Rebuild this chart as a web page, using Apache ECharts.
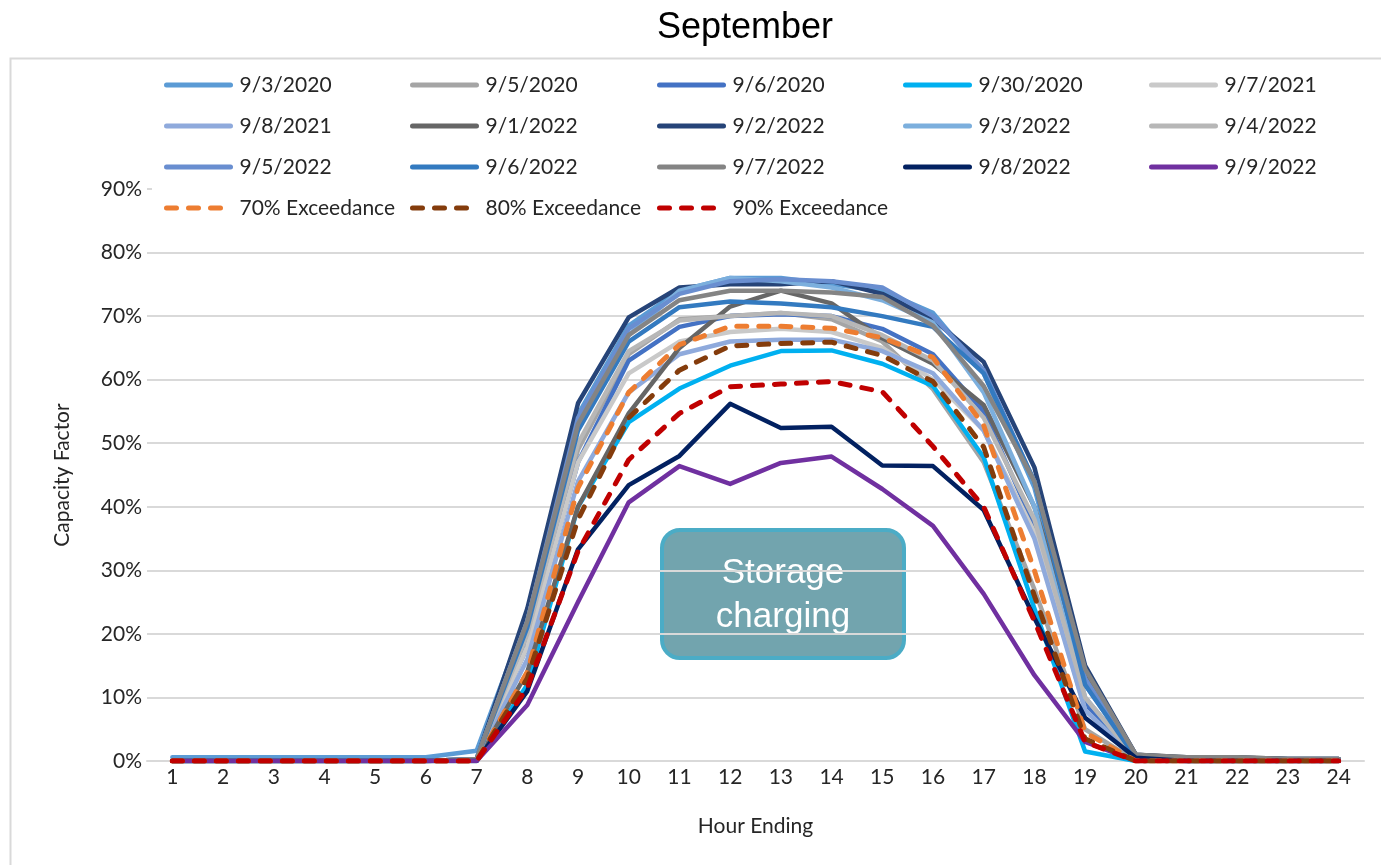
<!DOCTYPE html>
<html>
<head>
<meta charset="utf-8">
<title>September</title>
<script src="https://cdn.jsdelivr.net/npm/echarts@6/dist/echarts.min.js"></script>
<style>
  html, body { margin: 0; padding: 0; background: #ffffff; }
  #chart { width: 1381px; height: 865px; }
</style>
</head>
<body>
<div id="chart"></div>
<script>
// Hour-ending categories
const hours = ['1','2','3','4','5','6','7','8','9','10','11','12','13','14','15','16','17','18','19','20','21','22','23','24'];

// Y-axis ticks (percent)
const yTicks = [0, 10, 20, 30, 40, 50, 60, 70, 80, 90];

// Hourly capacity factor (%) per day
const d20200903 = [0.6,0.6,0.6,0.6,0.6,0.6,1.6,23,54.5,68.5,74,76,76,75,74,70.5,61,43,12,0.8,0.6,0.5,0.3,0.3];
const d20200905 = [0,0,0,0,0,0,0.3,19,49,64,69.5,70,70.5,69.5,66,58.5,47,27,5,0,0,0,0,0];
const d20200906 = [0,0,0,0,0,0,0.2,18,47,63,68.3,70,70.3,70,68,64,55,37,9,0.3,0,0,0,0];
const d20200930 = [0,0,0,0,0,0,0,12,40,53.3,58.6,62.2,64.5,64.6,62.5,59,47.8,24,1.5,0,0,0,0,0];
const d20210907 = [0,0,0,0,0,0,0.2,18,47,61,66,67.5,68,67.5,65,60,52,36,8,0.3,0,0,0,0];
const d20210908 = [0,0,0,0,0,0,0,16,44,58,64,66,66.3,66.3,64.5,61,52,35,8,0.3,0,0,0,0];
const d20220901 = [0,0,0,0,0,0,0,14,40,54.7,65,71.5,74,72,66.5,62.5,56,40,14,1,0.6,0.6,0.3,0.3];
const d20220902 = [0,0,0,0,0,0,0.3,24,56.3,69.8,74.5,75,75,75.5,73.5,69.5,62.8,46.2,15,1,0.5,0.5,0.3,0.3];
const d20220903 = [0,0,0,0,0,0,0.3,22,53,67,74,76,75.5,74.5,72.5,69,58,40,10,0.5,0,0,0,0];
const d20220904 = [0,0,0,0,0,0,0.3,20,50,64.5,69.3,70,70.5,70,67,63,54,38,10,0.5,0,0,0,0];
const d20220905 = [0,0,0,0,0,0,0.3,22,54,68,73.5,75.5,75.8,75.5,74.5,70,61.5,44,13,0.5,0,0,0,0];
const d20220906 = [0,0,0,0,0,0,0.3,21,52,66,71.4,72.3,72,71.4,70,68.3,61,44,12,0.5,0,0,0,0];
const d20220907 = [0,0,0,0,0,0,0.3,22,53,67,72.5,74,74,73.7,73,68.5,59,44,14.5,1,0.6,0.6,0.3,0.3];
const d20220908 = [0,0,0,0,0,0,0,11,33.3,43.4,48,56.2,52.4,52.6,46.5,46.4,39.5,22.5,6.8,0.5,0,0,0,0];
const d20220909 = [0,0,0,0,0,0,0,8.8,25,40.7,46.4,43.6,46.9,47.9,42.8,37,26.3,13.5,3,0,0,0,0,0];

// Exceedance profiles (%)
const exc70 = [0,0,0,0,0,0,0,14,43,58,65.5,68.4,68.4,68.1,66.6,63.5,52.8,30,4.5,0,0,0,0,0];
const exc80 = [0,0,0,0,0,0,0,13,38,54,61.5,65.3,65.7,65.9,63.8,59.7,49.4,26,3.5,0,0,0,0,0];
const exc90 = [0,0,0,0,0,0,0,11.5,33,47.4,54.7,58.9,59.3,59.7,58.1,49.5,40,22,3,0,0,0,0,0];

const daySeries = [
  { name: '9/3/2020',  data: d20200903, color: '#5B9BD5' },
  { name: '9/5/2020',  data: d20200905, color: '#A5A5A5' },
  { name: '9/6/2020',  data: d20200906, color: '#4472C4' },
  { name: '9/30/2020', data: d20200930, color: '#00B0F0' },
  { name: '9/7/2021',  data: d20210907, color: '#C9C9C9' },
  { name: '9/8/2021',  data: d20210908, color: '#8FAADC' },
  { name: '9/1/2022',  data: d20220901, color: '#666666' },
  { name: '9/2/2022',  data: d20220902, color: '#264478' },
  { name: '9/3/2022',  data: d20220903, color: '#7CAFDD' },
  { name: '9/4/2022',  data: d20220904, color: '#B7B7B7' },
  { name: '9/5/2022',  data: d20220905, color: '#698ED0' },
  { name: '9/6/2022',  data: d20220906, color: '#337AC0' },
  { name: '9/7/2022',  data: d20220907, color: '#848484' },
  { name: '9/8/2022',  data: d20220908, color: '#022161' },
  { name: '9/9/2022',  data: d20220909, color: '#7030A0' }
];
const exceedanceSeries = [
  { name: '70% Exceedance', data: exc70, color: '#ED7D31' },
  { name: '80% Exceedance', data: exc80, color: '#843C0C' },
  { name: '90% Exceedance', data: exc90, color: '#C00000' }
];

// Legend laid out as five columns
const legendColumns = [
  ['9/3/2020', '9/8/2021', '9/5/2022', '70% Exceedance'],
  ['9/5/2020', '9/1/2022', '9/6/2022', '80% Exceedance'],
  ['9/6/2020', '9/2/2022', '9/7/2022', '90% Exceedance'],
  ['9/30/2020', '9/3/2022', '9/8/2022'],
  ['9/7/2021', '9/4/2022', '9/9/2022']
];
const legendLefts = [164, 410, 657, 903, 1149];

const labelFont = 'Lato, "Liberation Sans", sans-serif';
const labelColor = '#262626';

const series = [];
daySeries.forEach(s => series.push({
  name: s.name, type: 'line', data: s.data, symbol: 'none',
  color: s.color,
  lineStyle: { color: s.color, width: 4.5, cap: 'round', join: 'round' },
  z: 2
}));
exceedanceSeries.forEach(s => series.push({
  name: s.name, type: 'line', data: s.data, symbol: 'none',
  color: s.color,
  lineStyle: { color: s.color, width: 5, type: [10, 12], cap: 'round', join: 'round' },
  z: 3
}));

const legends = legendColumns.map((col, i) => ({
  orient: 'vertical',
  left: legendLefts[i],
  top: 73,
  padding: 0,
  itemWidth: 64,
  itemHeight: 14,
  itemGap: 17,
  selectedMode: false,
  data: col,
  z: 6,
  itemStyle: { opacity: 0 },
  lineStyle: { width: 5, cap: 'round' },
  textStyle: { fontFamily: labelFont, fontSize: 21, color: labelColor, lineHeight: 24, padding: [0, 0, 0, 4] }
}));

const chart = echarts.init(document.getElementById('chart'), null, { renderer: 'canvas' });
chart.setOption({
  backgroundColor: '#ffffff',
  animation: false,
  title: {
    text: 'September',
    left: 740,
    textAlign: 'center',
    top: 5,
    textStyle: { fontFamily: '"Liberation Sans", Arial, sans-serif', fontSize: 36, fontWeight: 'normal', color: '#000000' }
  },
  legend: legends,
  grid: { left: 147, right: 17, top: 189, bottom: 104 },
  xAxis: {
    type: 'category',
    data: hours,
    boundaryGap: true,
    name: 'Hour Ending',
    nameLocation: 'middle',
    nameGap: 55,
    nameTextStyle: { fontFamily: labelFont, fontSize: 21, color: labelColor },
    axisLine: { lineStyle: { color: '#D9D9D9', width: 2 } },
    axisTick: { show: false },
    axisLabel: { fontFamily: labelFont, fontSize: 21, color: labelColor, margin: 6 }
  },
  yAxis: {
    type: 'value',
    min: yTicks[0],
    max: yTicks[yTicks.length - 1],
    interval: 10,
    name: 'Capacity Factor',
    nameLocation: 'middle',
    nameGap: 74,
    nameTextStyle: { fontFamily: labelFont, fontSize: 21, color: labelColor },
    axisLine: { show: false },
    axisTick: { show: false },
    axisLabel: { fontFamily: labelFont, fontSize: 21, color: labelColor, margin: 5, formatter: '{value}%' },
    splitLine: { lineStyle: { color: '#D9D9D9', width: 2 } }
  },
  graphic: [
    // chart-area frame
    { type: 'rect', left: 8, top: 56, shape: { width: 1420, height: 900 },
      style: { fill: 'none', stroke: '#D9D9D9', lineWidth: 2 }, z: 0, silent: true },
    // legend backdrop
    { type: 'rect', left: 152, top: 62, shape: { width: 1216, height: 166 },
      style: { fill: '#ffffff' }, z: 1, silent: true },
    // annotation box
    { type: 'group', left: 660, top: 528, z: 10, children: [
      { type: 'rect', shape: { x: 0, y: 0, width: 242, height: 128, r: 18 },
        style: { fill: '#72A4AE', stroke: '#4BACC6', lineWidth: 4 } },
      { type: 'text', x: 121, y: 65,
        style: { text: 'Storage\ncharging', fill: '#ffffff', font: '35px "Liberation Sans", Arial, sans-serif',
                 textAlign: 'center', textVerticalAlign: 'middle', lineHeight: 44 } }
    ]}
  ],
  series: series
});
</script>
</body>
</html>
